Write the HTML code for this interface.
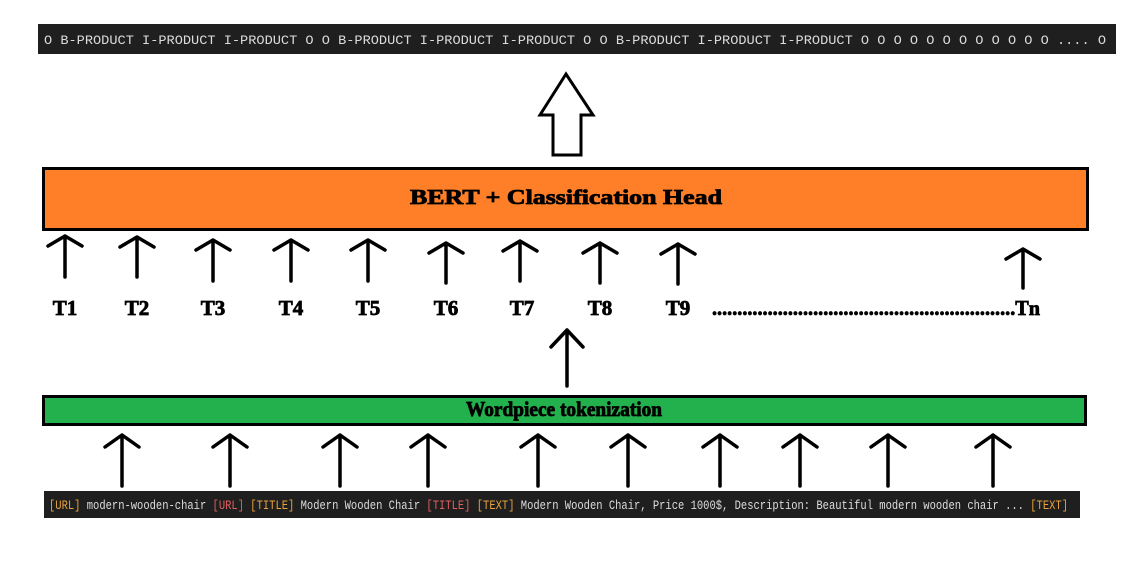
<!DOCTYPE html>
<html><head><meta charset="utf-8"><style>
html,body{margin:0;padding:0;background:#fff;width:1146px;height:578px;overflow:hidden}
svg{display:block}
.m{font-family:"Liberation Mono",monospace;font-size:12.5px}
.t{font-family:"Liberation Serif",serif;font-weight:bold;font-size:21px;fill:#000;stroke:#000;stroke-width:0.8}
</style></head><body>
<svg width="1146" height="578" viewBox="0 0 1146 578">
<rect x="38" y="24" width="1078" height="30" fill="#1f1f1f"/>
<text class="m" x="44" y="44" fill="#dcdcdc" textLength="1062" lengthAdjust="spacingAndGlyphs">O B-PRODUCT I-PRODUCT I-PRODUCT O O B-PRODUCT I-PRODUCT I-PRODUCT O O B-PRODUCT I-PRODUCT I-PRODUCT O O O O O O O O O O O O .... O</text>
<polygon points="566,74 540,115 553,115 553,155 581,155 581,115 593,115" fill="#fff" stroke="#000" stroke-width="3" stroke-linejoin="miter"/>
<rect x="43.5" y="168.5" width="1044" height="61" fill="#fe7f27" stroke="#000" stroke-width="3"/>
<text class="t" x="566" y="204" text-anchor="middle" font-family="Liberation Sans" font-size="21" textLength="312" lengthAdjust="spacingAndGlyphs">BERT + Classification Head</text>
<g stroke="#000" stroke-width="3.5" fill="none" stroke-linecap="round" stroke-linejoin="round">
<path d="M65,277V236M48,246L65,236L82,246"/>
<path d="M137,277V237M120,247L137,237L154,247"/>
<path d="M213,281V240M196,250L213,240L230,250"/>
<path d="M291,281V240M274,250L291,240L308,250"/>
<path d="M368,281V240M351,250L368,240L385,250"/>
<path d="M446,283V243M429,253L446,243L463,253"/>
<path d="M520,281V241M503,251L520,241L537,251"/>
<path d="M600,283V243M583,253L600,243L617,253"/>
<path d="M678,284V244M661,254L678,244L695,254"/>
<path d="M1023,288V249M1006,259L1023,249L1040,259"/>
<path d="M567,386V330M551,347L567,330L583,347"/>
<path d="M122,486V435M105,447L122,435L139,447"/>
<path d="M230,486V435M213,447L230,435L247,447"/>
<path d="M340,486V435M323,447L340,435L357,447"/>
<path d="M428,486V435M411,447L428,435L445,447"/>
<path d="M538,486V435M521,447L538,435L555,447"/>
<path d="M628,486V435M611,447L628,435L645,447"/>
<path d="M720,486V435M703,447L720,435L737,447"/>
<path d="M800,486V435M783,447L800,435L817,447"/>
<path d="M888,486V435M871,447L888,435L905,447"/>
<path d="M993,486V435M976,447L993,435L1010,447"/>
</g>
<g class="t">
<text x="65" y="315" text-anchor="middle">T1</text>
<text x="137" y="315" text-anchor="middle">T2</text>
<text x="213" y="315" text-anchor="middle">T3</text>
<text x="291" y="315" text-anchor="middle">T4</text>
<text x="368" y="315" text-anchor="middle">T5</text>
<text x="446" y="315" text-anchor="middle">T6</text>
<text x="522" y="315" text-anchor="middle">T7</text>
<text x="600" y="315" text-anchor="middle">T8</text>
<text x="678" y="315" text-anchor="middle">T9</text>
<text x="712" y="315" textLength="328" lengthAdjust="spacingAndGlyphs">............................................................Tn</text>
</g>
<rect x="43.5" y="396.5" width="1042" height="28" fill="#22b14c" stroke="#000" stroke-width="3"/>
<text class="t" x="564" y="416" text-anchor="middle" font-size="17" textLength="196" lengthAdjust="spacingAndGlyphs" stroke-width="0.5">Wordpiece tokenization</text>
<rect x="44" y="491" width="1036" height="27" fill="#1f1f1f"/>
<text class="m" x="49" y="509" fill="#dcdcdc" textLength="1019" lengthAdjust="spacingAndGlyphs"><tspan fill="#e8a33d">[URL]</tspan> modern-wooden-chair <tspan fill="#e06060">[URL]</tspan> <tspan fill="#e8a33d">[TITLE]</tspan> Modern Wooden Chair <tspan fill="#e06060">[TITLE]</tspan> <tspan fill="#e8a33d">[TEXT]</tspan> Modern Wooden Chair, Price 1000$, Description: Beautiful modern wooden chair ... <tspan fill="#e8a33d">[TEXT]</tspan></text>
</svg>
</body></html>
